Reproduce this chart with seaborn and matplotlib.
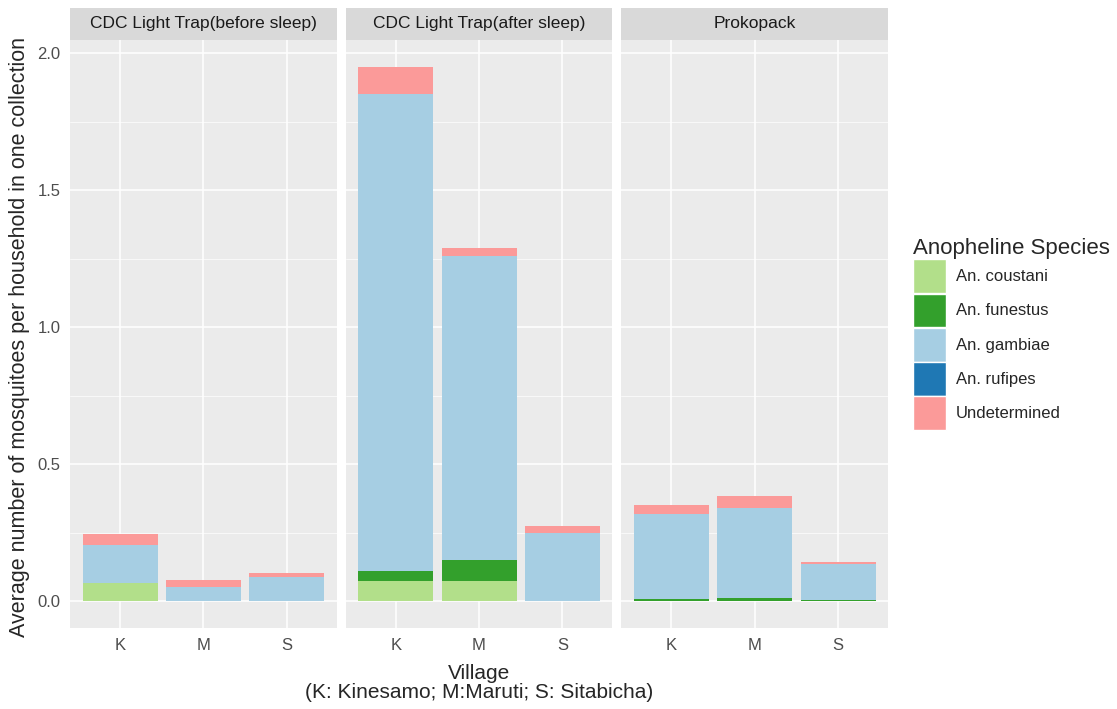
import matplotlib
matplotlib.use("Agg")
import matplotlib.pyplot as plt
from matplotlib.patches import Patch
from matplotlib.ticker import MultipleLocator
import pandas as pd
import seaborn as sns

# values (mean mosquitoes per household per collection)
methods = ["CDC Light Trap(before sleep)", "CDC Light Trap(after sleep)", "Prokopack"]
villages = ["K", "M", "S"]
species = ["An. coustani", "An. funestus", "An. gambiae", "An. rufipes", "Undetermined"]
colors = ["#b2df8a", "#33a02c", "#a6cee3", "#1f78b4", "#fb9a99"]

# one list per method, rows = villages K, M, S; columns follow `species`
before_sleep = [
    [0.065, 0.000, 0.142, 0.000, 0.039],
    [0.000, 0.000, 0.051, 0.000, 0.026],
    [0.000, 0.000, 0.090, 0.000, 0.012],
]
after_sleep = [
    [0.074, 0.037, 1.739, 0.000, 0.100],
    [0.074, 0.075, 1.112, 0.000, 0.026],
    [0.000, 0.000, 0.249, 0.000, 0.025],
]
prokopack = [
    [0.000, 0.010, 0.307, 0.003, 0.030],
    [0.000, 0.012, 0.328, 0.000, 0.043],
    [0.000, 0.003, 0.133, 0.000, 0.007],
]

rows = []
for method, table in zip(methods, [before_sleep, after_sleep, prokopack]):
    for village, vals in zip(villages, table):
        for sp, v in zip(species, vals):
            rows.append({"method": method, "village": village, "species": sp, "value": v})
df = pd.DataFrame(rows)
df["cum"] = df.groupby(["method", "village"])["value"].cumsum()

sns.set_theme(style="darkgrid", rc={
    "axes.facecolor": "#EBEBEB",
    "grid.color": "white",
    "axes.edgecolor": "#EBEBEB",
})
plt.rcParams["font.family"] = ["Liberation Sans", "DejaVu Sans"]

fig, axes = plt.subplots(1, 3, figsize=(11.17, 7.09), dpi=100, sharey=True)
fig.subplots_adjust(left=0.0627, right=0.795, bottom=0.1142, top=0.9436, wspace=0.034)

for ax, method in zip(axes, methods):
    sub = df[df["method"] == method]
    # stacked bars: draw the cumulative totals from the top layer down
    for sp, col in reversed(list(zip(species, colors))):
        part = sub[sub["species"] == sp]
        sns.barplot(data=part, x="village", y="cum", order=villages, color=col,
                    width=0.9, saturation=1, errorbar=None, ax=ax)
    ax.set_xlim(-0.6, 2.6)
    ax.set_ylim(-0.0975, 2.0475)
    ax.yaxis.set_major_locator(MultipleLocator(0.5))
    ax.yaxis.set_minor_locator(MultipleLocator(0.25))
    ax.grid(which="major", color="white", linewidth=1.1)
    ax.grid(which="minor", axis="y", color="white", linewidth=0.5)
    ax.set_axisbelow(True)
    ax.set_xlabel("")
    ax.set_ylabel("")
    for s in ax.spines.values():
        s.set_visible(False)
    ax.tick_params(which="major", length=4, width=1, color="#333333", labelsize=12,
                   labelcolor="#4D4D4D", pad=3)
    ax.tick_params(which="minor", length=0)
    for bar in ax.patches:
        bar.set_edgecolor("none")

    # facet strip
    pos = ax.get_position()
    strip = fig.add_axes([pos.x0, pos.y1, pos.width, 32 / 709])
    strip.set_facecolor("#D9D9D9")
    strip.set_xticks([])
    strip.set_yticks([])
    for s in strip.spines.values():
        s.set_visible(False)
    strip.text(0.5, 0.5, method, ha="center", va="center", fontsize=12.5, color="#1A1A1A")

axes[0].yaxis.set_major_formatter(plt.FuncFormatter(lambda v, p: f"{v:.1f}"))
for ax in axes[1:]:
    ax.tick_params(axis="y", which="major", length=0)

fig.text(20 / 1117, (1 - 337 / 709), "Average number of mosquitoes per household in one collection",
         rotation=90, ha="center", va="center", fontsize=15.5)
fig.text(479 / 1117, 1 - 683 / 709, "Village\n(K: Kinesamo; M:Maruti; S: Sitabicha)",
         ha="center", va="center", fontsize=15, linespacing=1.05)

handles = [Patch(facecolor=c, edgecolor="white", label=s) for s, c in zip(species, colors)]
leg = fig.legend(handles=handles, title="Anopheline Species", loc="center left",
                 bbox_to_anchor=(906 / 1117, 1 - 334 / 709), frameon=False,
                 fontsize=12, title_fontsize=16, handlelength=2.0, handleheight=2.75,
                 handletextpad=0.6, labelspacing=0.02, borderaxespad=0)
leg._legend_box.align = "left"

fig.savefig("out.png", dpi=100)
